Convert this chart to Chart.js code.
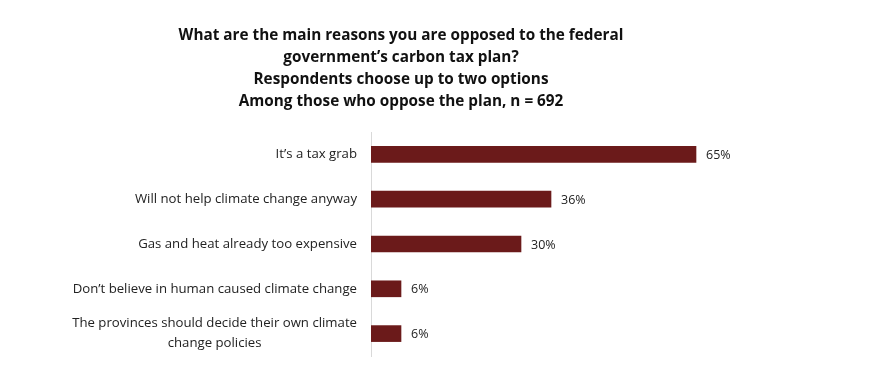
<!DOCTYPE html>
<html>
<head>
<meta charset="utf-8">
<script src="https://cdn.jsdelivr.net/npm/chart.js@4"></script>
<style>
  html, body { margin: 0; padding: 0; background: #fff; }
  #wrap { width: 882px; height: 385px; }
</style>
</head>
<body>
<div id="wrap"><canvas id="c" width="882" height="385"></canvas></div>
<script>
const titleLines = [
  'What are the main reasons you are opposed to the federal',
  'government\u2019s carbon tax plan?',
  'Respondents choose up to two options',
  'Among those who oppose the plan, n = 692'
];
const reasons = [
  ['It\u2019s a tax grab'],
  ['Will not help climate change anyway'],
  ['Gas and heat already too expensive'],
  ['Don\u2019t believe in human caused climate change'],
  ['The provinces should decide their own climate', 'change policies']
];
const shares = [65, 36, 30, 6, 6];

const BAR = '#6b1a1a';
const FONT = '"Open Sans", sans-serif';

// category labels: right aligned, wrapped lines centred on the first line
const catLabels = {
  id: 'catLabels',
  afterDraw(chart) {
    const { ctx, scales: { y } } = chart;
    const right = y.right - 14;
    ctx.save();
    ctx.font = '13.2px ' + FONT;
    ctx.fillStyle = '#222';
    ctx.textBaseline = 'middle';
    reasons.forEach((lines, i) => {
      const cy = y.getPixelForValue(i);
      const lh = 20;
      const top = cy - (lines.length - 1) * lh / 2;
      const w0 = ctx.measureText(lines[0]).width;
      const mid = right - w0 / 2;
      lines.forEach((t, k) => {
        if (k === 0) { ctx.textAlign = 'right'; ctx.fillText(t, right, top); }
        else { ctx.textAlign = 'center'; ctx.fillText(t, mid, top + k * lh); }
      });
    });
    ctx.restore();
  }
};

// value labels at end of bars
const valueLabels = {
  id: 'valueLabels',
  afterDatasetsDraw(chart) {
    const { ctx } = chart;
    const meta = chart.getDatasetMeta(0);
    ctx.save();
    ctx.font = '12.5px ' + FONT;
    ctx.fillStyle = '#222';
    ctx.textAlign = 'left';
    ctx.textBaseline = 'middle';
    meta.data.forEach((bar, i) => {
      ctx.fillText(shares[i] + '%', bar.x + 10, bar.y + 1);
    });
    ctx.restore();
  }
};

new Chart(document.getElementById('c'), {
  type: 'bar',
  data: {
    labels: reasons.map(r => r.join(' ')),
    datasets: [{ data: shares, backgroundColor: BAR, barThickness: 16 }]
  },
  options: {
    indexAxis: 'y',
    responsive: false,
    animation: false,
    layout: { padding: { left: 0, right: 80, top: 0, bottom: 29 } },
    plugins: {
      legend: { display: false },
      tooltip: { enabled: false },
      title: {
        display: true,
        text: titleLines,
        color: '#111',
        font: { family: FONT, size: 15.3, weight: 'bold', lineHeight: 1.438 },
        padding: { top: 25, bottom: 19 }
      }
    },
    scales: {
      x: { display: false, min: 0, max: 86.2 },
      y: {
        afterFit(s) { s.width = 371; },
        grid: { display: false, drawTicks: false },
        border: { display: true, color: '#d9d9d9', width: 1 },
        ticks: { display: false }
      }
    }
  },
  plugins: [catLabels, valueLabels]
});
</script>
</body>
</html>
